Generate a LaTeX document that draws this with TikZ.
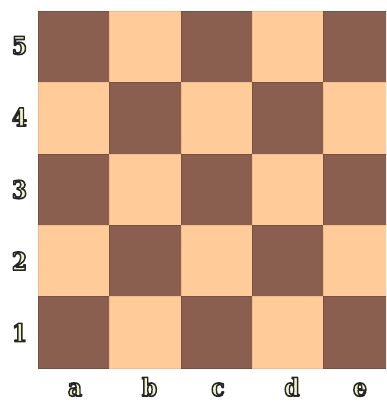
\documentclass[tikz,border=0pt]{standalone}
\usepackage{fontspec}
\newfontfamily\labfont{DejaVu Serif}
\definecolor{darksq}{HTML}{8B5F4F}
\definecolor{lightsq}{HTML}{FFCC99}
\newcommand{\lab}[1]{\scalebox{0.9}[1]{\special{pdf:literal direct 2 Tr 1.6 w 1 j 0.15 0.15 0.15 RG 0.95 0.95 0.78 rg}#1\special{pdf:literal direct 0 Tr 0 0 0 RG 0 0 0 rg}}}
\begin{document}
\begin{tikzpicture}[x=1pt,y=-1pt,
  sq/.style={line width=0.6pt},
  coordlabel/.style={font=\labfont\bfseries\fontsize{24.5}{24.5}\selectfont, inner sep=0pt}]
\useasboundingbox (0,0) rectangle (386,402);
\fill[white] (0,0) rectangle (386,402);
\begin{scope}
\clip (0,0) rectangle (386,402);
\foreach \c in {0,...,4}{
  \foreach \r in {0,...,4}{
    \pgfmathtruncatemacro{\parity}{mod(\c+\r,2)}
    \ifnum\parity=0
      \filldraw[sq, fill=darksq, draw=darksq!85!black] (38+71.4*\c,11+71.4*\r) rectangle ++(71.4,71.4);
    \else
      \filldraw[sq, fill=lightsq, draw=lightsq!85!darksq] (38+71.4*\c,11+71.4*\r) rectangle ++(71.4,71.4);
    \fi
  }
}
\end{scope}
\node[coordlabel] (r5) at (19.5,45.5) {\lab{5}};
\node[coordlabel] (r4) at (19.5,117) {\lab{4}};
\node[coordlabel] (r3) at (19.5,189.5) {\lab{3}};
\node[coordlabel] (r2) at (19.5,261) {\lab{2}};
\node[coordlabel] (r1) at (19.5,332.5) {\lab{1}};
\node[coordlabel, anchor=base] (fa) at (75,396) {\lab{a}};
\node[coordlabel, anchor=base] (fb) at (149.5,396) {\lab{b}};
\node[coordlabel, anchor=base] (fc) at (218,396) {\lab{c}};
\node[coordlabel, anchor=base] (fd) at (292,396) {\lab{d}};
\node[coordlabel, anchor=base] (fe) at (360,396) {\lab{e}};
\end{tikzpicture}
\end{document}
